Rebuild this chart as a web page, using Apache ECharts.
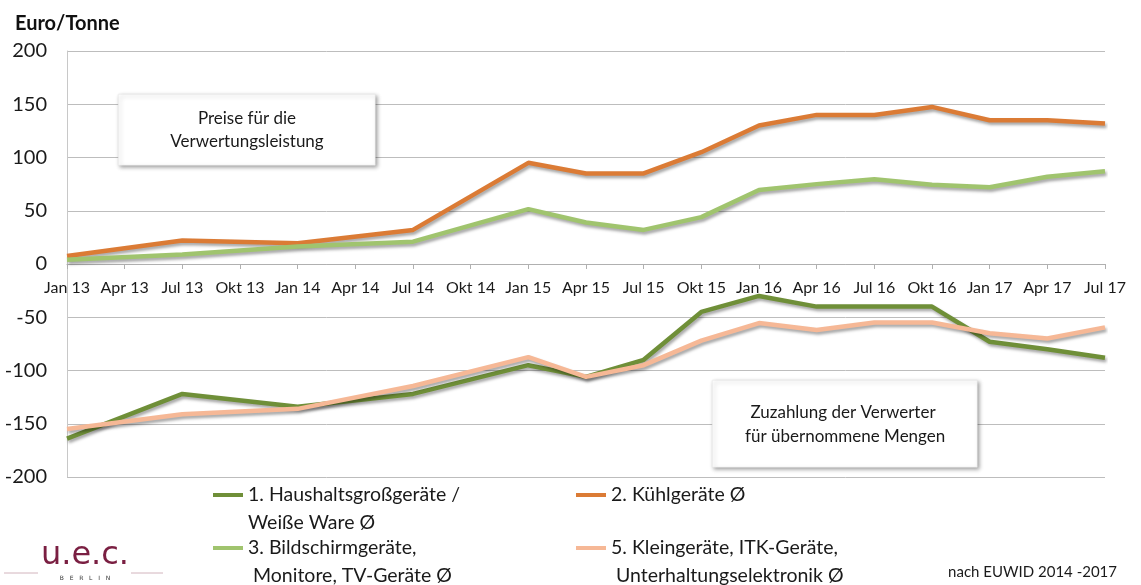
<!DOCTYPE html>
<html>
<head>
<meta charset="utf-8">
<script src="https://cdn.jsdelivr.net/npm/echarts@6/dist/echarts.min.js"></script>
<style>
html,body{margin:0;padding:0;background:#fff;}
#chart{width:1141px;height:585px;}
</style>
</head>
<body>
<div id="chart"></div>
<script>
// ---- data ----
const categories = ['Jan 13','Apr 13','Jul 13','Okt 13','Jan 14','Apr 14','Jul 14','Okt 14','Jan 15','Apr 15','Jul 15','Okt 15','Jan 16','Apr 16','Jul 16','Okt 16','Jan 17','Apr 17','Jul 17'];
const seriesNames = ['1. Haushaltsgroßgeräte / Weiße Ware Ø','2. Kühlgeräte Ø','3. Bildschirmgeräte, Monitore, TV-Geräte Ø','5. Kleingeräte, ITK-Geräte, Unterhaltungselektronik Ø'];
const legendLabels = ['1. Haushaltsgroßgeräte /\nWeiße Ware Ø','2. Kühlgeräte Ø','3. Bildschirmgeräte,\n Monitore, TV-Geräte Ø','5. Kleingeräte, ITK-Geräte,\n Unterhaltungselektronik Ø'];
const haushalt   = [-164, null, -122, null, -134, null, -122, null, -95, -106, -90, -45, -30, -40, -40, -40, -73, -80, -88];
const kuehl      = [7.5, null, 22, null, 19.5, null, 32, null, 95, 85, 85, 105, 130, 140, 140, 147.5, 135, 135, 132];
const bildschirm = [4, null, 9, null, 16.5, null, 21, null, 51.5, 39, 32, 44, 69.5, 75, 79.5, 74.5, 72, 82, 87];
const klein      = [-155, null, -141, null, -136, null, -114.5, null, -87.5, -106, -95, -72, -55.5, -62, -55, -55, -65, -70, -59.5];
const yTicks = {min: -200, max: 200, interval: 50};
const axisTitle = 'Euro/Tonne';
const noteTop = 'Preise für die\nVerwertungsleistung';
const noteBottom = 'Zuzahlung der Verwerter\n für übernommene Mengen';
const sourceText = 'nach EUWID 2014 -2017';

const colors = ['#6f8f38', '#db7b35', '#a0c46e', '#f6b896'];
const FONT = 'Lato, "Open Sans", sans-serif';

const GRID = {left: 67, right: 36, top: 51, bottom: 108};
const gridH = 585 - GRID.top - GRID.bottom;
const LEG_LH = 28;

const chart = echarts.init(document.getElementById('chart'), null, {renderer: 'canvas'});

function mkSeries(name, data, color) {
  return {
    name: name, type: 'line', data: data, connectNulls: true,
    symbol: 'none', smooth: false,
    lineStyle: {color: color, width: 4.5, shadowColor: 'rgba(0,0,0,0.35)', shadowBlur: 3, shadowOffsetX: 1.5, shadowOffsetY: 2.5},
    itemStyle: {color: color},
    emphasis: {disabled: true}
  };
}

// iconY = vertical centre of the legend line sample (first text line is level with it)
function mkLegend(i, left, iconY) {
  const nLines = legendLabels[i].split('\n').length;
  const prefix = '\n'.repeat(nLines - 1);
  const blockH = (2 * nLines - 1) * LEG_LH;
  return {
    data: [seriesNames[i]], left: left, top: iconY - blockH / 2, padding: 0,
    icon: 'rect', itemWidth: 30, itemHeight: 4, itemGap: 5,
    formatter: () => prefix + legendLabels[i],
    selectedMode: false,
    textStyle: {fontFamily: FONT, fontSize: 19.5, color: '#1a1a1a', lineHeight: LEG_LH}
  };
}

// position of value 0 inside the grid
const zeroOffset = -gridH * (0 - yTicks.min) / (yTicks.max - yTicks.min);

const option = {
  animation: false,
  backgroundColor: '#ffffff',
  title: {text: axisTitle, left: 10, top: 9, textStyle: {fontFamily: FONT, fontSize: 20, fontWeight: 'bold', color: '#111'}},
  grid: Object.assign({containLabel: false}, GRID),
  xAxis: {
    type: 'category', data: categories, boundaryGap: false,
    position: 'bottom', offset: zeroOffset,
    axisLine: {onZero: false, lineStyle: {color: '#b0b0b0', width: 1}},
    axisTick: {show: true, alignWithLabel: true, length: 5, lineStyle: {color: '#b0b0b0'}},
    axisLabel: {interval: 0, margin: 16, fontFamily: FONT, fontSize: 16, color: '#1a1a1a'},
    splitLine: {show: false}
  },
  yAxis: {
    type: 'value', min: yTicks.min, max: yTicks.max, interval: yTicks.interval,
    axisLine: {show: true, lineStyle: {color: '#c8c8c8'}},
    axisTick: {show: false},
    axisLabel: {margin: 20, fontFamily: FONT, fontSize: 20, color: '#1a1a1a'},
    splitLine: {lineStyle: {color: '#bdbdbd', width: 1}}
  },
  legend: [mkLegend(0, 213, 495), mkLegend(1, 576, 495), mkLegend(2, 213, 548), mkLegend(3, 576, 548)],
  series: [
    mkSeries(seriesNames[0], haushalt, colors[0]),
    mkSeries(seriesNames[1], kuehl, colors[1]),
    mkSeries(seriesNames[2], bildschirm, colors[2]),
    mkSeries(seriesNames[3], klein, colors[3])
  ],
  graphic: [
    {type: 'rect', left: 118, top: 94, z: 100, shape: {width: 257, height: 71},
     style: {fill: '#fff', stroke: '#e4e4e4', lineWidth: 0.5, shadowColor: 'rgba(0,0,0,0.4)', shadowBlur: 4, shadowOffsetX: 2, shadowOffsetY: 2}},
    {type: 'text', z: 101, x: 247, y: 130,
     style: {text: noteTop, fontFamily: FONT, fontSize: 17, fill: '#1a1a1a', align: 'center', verticalAlign: 'middle', lineHeight: 23}},
    {type: 'rect', left: 712, top: 380, z: 100, shape: {width: 265, height: 87},
     style: {fill: '#fff', stroke: '#e4e4e4', lineWidth: 0.5, shadowColor: 'rgba(0,0,0,0.4)', shadowBlur: 4, shadowOffsetX: 2, shadowOffsetY: 2}},
    {type: 'text', z: 101, x: 843, y: 425,
     style: {text: noteBottom, fontFamily: FONT, fontSize: 17, fill: '#1a1a1a', align: 'center', verticalAlign: 'middle', lineHeight: 24}},
    {type: 'text', z: 101, x: 1117, y: 572,
     style: {text: sourceText, fontFamily: FONT, fontSize: 15, fill: '#1a1a1a', align: 'right', verticalAlign: 'middle'}},
    // logo
    {type: 'text', z: 101, x: 85, y: 556,
     style: {text: 'u.e.c.', fontFamily: '"DejaVu Sans", sans-serif', fontSize: 32, fill: '#7a1f42', align: 'center', verticalAlign: 'middle'}},
    {type: 'text', z: 101, x: 85, y: 578,
     style: {text: 'B   E   R   L   I   N', fontFamily: '"DejaVu Sans", sans-serif', fontSize: 6, fill: '#333', align: 'center', verticalAlign: 'middle'}},
    {type: 'line', z: 101, shape: {x1: 4, y1: 573, x2: 38, y2: 573}, style: {stroke: '#d2b4bd', lineWidth: 1}},
    {type: 'line', z: 101, shape: {x1: 131, y1: 573, x2: 163, y2: 573}, style: {stroke: '#d2b4bd', lineWidth: 1}}
  ]
};
chart.setOption(option);
</script>
</body>
</html>
